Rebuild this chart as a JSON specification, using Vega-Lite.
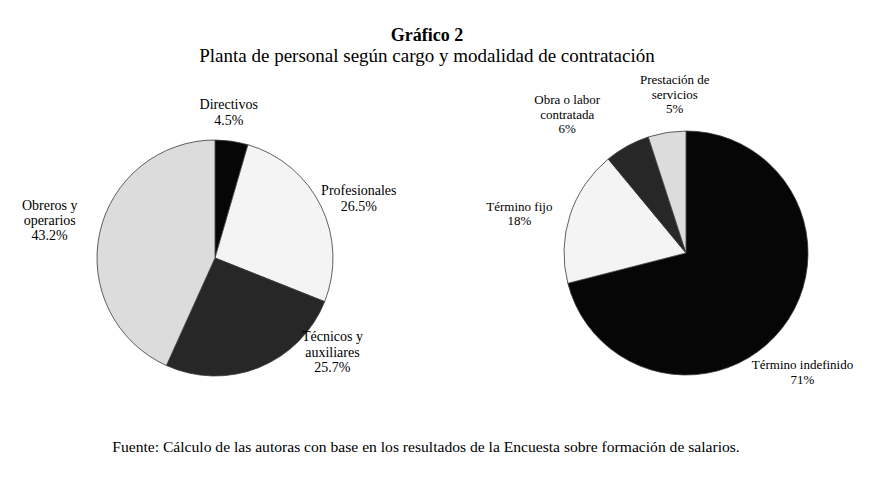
{
  "$schema": "https://vega.github.io/schema/vega-lite/v6.json",
  "config": {
    "font": "Liberation Serif",
    "view": {"stroke": null}
  },
  "padding": {"left": 5, "top": 27, "right": 3, "bottom": 5},
  "title": {
    "text": "Gráfico 2",
    "subtitle": "Planta de personal según cargo y modalidad de contratación",
    "font": "Liberation Serif",
    "fontSize": 18,
    "fontWeight": "bold",
    "subtitleFont": "Liberation Serif",
    "subtitleFontSize": 19,
    "subtitlePadding": 2,
    "subtitleColor": "black",
    "color": "black",
    "frame": "group",
    "anchor": "start",
    "align": "center",
    "dx": 422,
    "offset": 8
  },
  "spacing": 56,
  "bounds": "flush",
  "resolve": {"scale": {"color": "independent", "theta": "independent"}},
  "hconcat": [
    {
      "width": 420,
      "height": 300,
      "title": {
        "text": "Fuente: Cálculo de las autoras con base en los resultados de la Encuesta sobre formación de salarios.",
        "orient": "bottom",
        "frame": "group",
        "anchor": "start",
        "align": "center",
        "dx": 421,
        "offset": 27,
        "font": "Liberation Serif",
        "fontSize": 15.6,
        "fontWeight": "normal",
        "color": "black"
      },
      "data": {
        "values": [
          {"cargo": "Directivos", "pct": 4.5, "orden": 1, "etiqueta": "Directivos|4.5%"},
          {"cargo": "Profesionales", "pct": 26.5, "orden": 2, "etiqueta": "Profesionales|26.5%"},
          {"cargo": "Técnicos y auxiliares", "pct": 25.7, "orden": 3, "etiqueta": "Técnicos y|auxiliares|25.7%"},
          {"cargo": "Obreros y operarios", "pct": 43.2, "orden": 4, "etiqueta": "Obreros y|operarios|43.2%"}
        ]
      },
      "encoding": {
        "theta": {"field": "pct", "type": "quantitative", "stack": true},
        "order": {"field": "orden", "type": "quantitative"}
      },
      "layer": [
        {
          "mark": {"type": "arc", "outerRadius": 118, "stroke": "#3a3a3a", "strokeWidth": 0.8},
          "encoding": {
            "color": {
              "field": "cargo",
              "type": "nominal",
              "legend": null,
              "scale": {
                "domain": ["Directivos", "Profesionales", "Técnicos y auxiliares", "Obreros y operarios"],
                "range": ["#060606", "#f4f4f4", "#272727", "#dcdcdc"]
              }
            }
          }
        },
        {
          "mark": {"type": "text", "font": "Liberation Serif", "align": "center", "baseline": "middle", "lineBreak": "|", "color": "black", "radius": 140, "dx": -6, "dy": -14, "fontSize": 14, "lineHeight": 16},
          "encoding": {
            "detail": {"field": "cargo"},
            "text": {"field": "etiqueta"},
            "opacity": {"condition": {"test": "datum.cargo === 'Directivos'", "value": 1}, "value": 0}
          }
        },
        {
          "mark": {"type": "text", "font": "Liberation Serif", "align": "center", "baseline": "middle", "lineBreak": "|", "color": "black", "radius": 120, "dx": 36, "dy": -14, "fontSize": 14, "lineHeight": 16},
          "encoding": {
            "detail": {"field": "cargo"},
            "text": {"field": "etiqueta"},
            "opacity": {"condition": {"test": "datum.cargo === 'Profesionales'", "value": 1}, "value": 0}
          }
        },
        {
          "mark": {"type": "text", "font": "Liberation Serif", "align": "center", "baseline": "middle", "lineBreak": "|", "color": "black", "radius": 100, "dx": 80, "dy": -13.5, "fontSize": 14, "lineHeight": 15.5},
          "encoding": {
            "detail": {"field": "cargo"},
            "text": {"field": "etiqueta"},
            "opacity": {"condition": {"test": "datum.cargo === 'Técnicos y auxiliares'", "value": 1}, "value": 0}
          }
        },
        {
          "mark": {"type": "text", "font": "Liberation Serif", "align": "center", "baseline": "middle", "lineBreak": "|", "color": "black", "radius": 120, "dx": -48, "dy": -27, "fontSize": 14, "lineHeight": 15},
          "encoding": {
            "detail": {"field": "cargo"},
            "text": {"field": "etiqueta"},
            "opacity": {"condition": {"test": "datum.cargo === 'Obreros y operarios'", "value": 1}, "value": 0}
          }
        }
      ]
    },
    {
      "width": 410,
      "height": 290,
      "data": {
        "values": [
          {"modalidad": "Término indefinido", "pct": 71, "orden": 1, "etiqueta": "Término indefinido|71%"},
          {"modalidad": "Término fijo", "pct": 18, "orden": 2, "etiqueta": "Término fijo|18%"},
          {"modalidad": "Obra o labor contratada", "pct": 6, "orden": 3, "etiqueta": "Obra o labor|contratada|6%"},
          {"modalidad": "Prestación de servicios", "pct": 5, "orden": 4, "etiqueta": "Prestación de|servicios|5%"}
        ]
      },
      "encoding": {
        "theta": {"field": "pct", "type": "quantitative", "stack": true},
        "order": {"field": "orden", "type": "quantitative"}
      },
      "layer": [
        {
          "mark": {"type": "arc", "outerRadius": 122, "stroke": "#3a3a3a", "strokeWidth": 0.8},
          "encoding": {
            "color": {
              "field": "modalidad",
              "type": "nominal",
              "legend": null,
              "scale": {
                "domain": ["Término indefinido", "Término fijo", "Obra o labor contratada", "Prestación de servicios"],
                "range": ["#060606", "#f4f4f4", "#272727", "#dcdcdc"]
              }
            }
          }
        },
        {
          "mark": {"type": "text", "font": "Liberation Serif", "align": "center", "baseline": "middle", "lineBreak": "|", "color": "black", "radius": 155, "dx": -6, "dy": 17, "fontSize": 13, "lineHeight": 14.5},
          "encoding": {
            "detail": {"field": "modalidad"},
            "text": {"field": "etiqueta"},
            "opacity": {"condition": {"test": "datum.modalidad === 'Término indefinido'", "value": 1}, "value": 0}
          }
        },
        {
          "mark": {"type": "text", "font": "Liberation Serif", "align": "center", "baseline": "middle", "lineBreak": "|", "color": "black", "radius": 130, "dx": -43, "dy": -6, "fontSize": 13, "lineHeight": 14.5},
          "encoding": {
            "detail": {"field": "modalidad"},
            "text": {"field": "etiqueta"},
            "opacity": {"condition": {"test": "datum.modalidad === 'Término fijo'", "value": 1}, "value": 0}
          }
        },
        {
          "mark": {"type": "text", "font": "Liberation Serif", "align": "center", "baseline": "middle", "lineBreak": "|", "color": "black", "radius": 120, "dx": -61, "dy": -47.5, "fontSize": 13, "lineHeight": 14.5},
          "encoding": {
            "detail": {"field": "modalidad"},
            "text": {"field": "etiqueta"},
            "opacity": {"condition": {"test": "datum.modalidad === 'Obra o labor contratada'", "value": 1}, "value": 0}
          }
        },
        {
          "mark": {"type": "text", "font": "Liberation Serif", "align": "center", "baseline": "middle", "lineBreak": "|", "color": "black", "radius": 155, "dx": 13, "dy": -19.5, "fontSize": 13, "lineHeight": 14.5},
          "encoding": {
            "detail": {"field": "modalidad"},
            "text": {"field": "etiqueta"},
            "opacity": {"condition": {"test": "datum.modalidad === 'Prestación de servicios'", "value": 1}, "value": 0}
          }
        }
      ]
    }
  ]
}
